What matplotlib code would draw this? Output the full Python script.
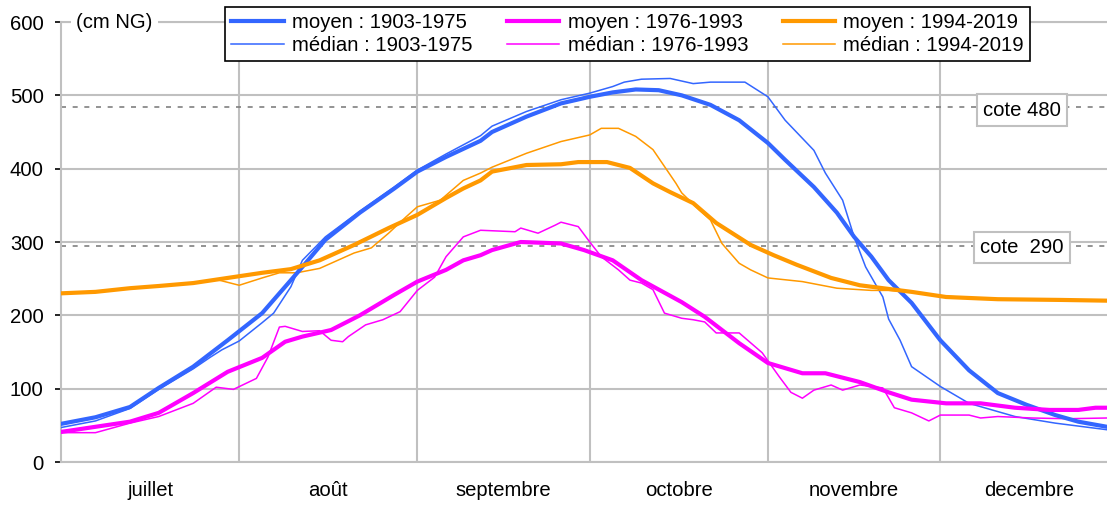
import matplotlib
matplotlib.use("Agg")
import matplotlib.pyplot as plt

plt.rcParams['font.family'] = ['Liberation Sans', 'DejaVu Sans']
plt.rcParams['font.size'] = 14.6

months = ["juillet", "août", "septembre", "octobre", "novembre", "decembre"]
month_starts = [0, 31, 62, 92, 123, 153, 184]

# jour 0 = 1er juillet, niveaux en cm NG
days_moy_1903 = [0, 6, 12, 17, 23, 29, 35, 42, 46, 52, 58, 62, 67, 73, 75, 81, 87, 92, 96, 100,
                 104, 108, 113, 118, 123, 126, 131, 135, 138, 141, 144, 148, 153, 158, 163, 168, 173, 177, 182]
moy_1903 = [52, 61, 75, 101, 130, 166, 203, 266, 303, 340, 373, 396, 416, 438, 450, 471, 489, 498, 504, 508,
            507, 500, 487, 466, 435, 412, 375, 340, 307, 280, 248, 217, 166, 125, 94, 78, 64, 55, 48]

days_med_1903 = [0, 6, 12, 17, 23, 26, 28, 31, 35, 37, 40, 42, 46, 52, 58, 62, 67, 73, 75, 81,
                 87, 92, 96, 98, 101, 106, 110, 113, 119, 121, 123, 126, 131, 133, 136, 138, 140, 143, 144, 146,
                 148, 153, 158, 166, 173, 182]
med_1903 = [47, 56, 73, 99, 127, 143, 153, 165, 190, 203, 239, 275, 307, 342, 375, 398, 420, 445, 458, 478,
            494, 503, 512, 518, 522, 523, 516, 518, 518, 508, 498, 466, 425, 394, 357, 307, 266, 225, 195, 166,
            130, 103, 80, 62, 53, 44]

days_moy_1976 = [0, 6, 12, 17, 23, 29, 35, 39, 42, 47, 52, 58, 62, 67, 70, 73, 75, 80, 87, 91,
                 96, 101, 108, 112, 118, 123, 129, 133, 139, 144, 148, 154, 160, 166, 172, 177, 180, 182]
moy_1976 = [41, 48, 55, 67, 94, 123, 142, 164, 171, 180, 200, 228, 246, 262, 275, 282, 289, 300, 298, 289,
            275, 248, 218, 198, 162, 135, 121, 121, 109, 95, 85, 80, 80, 74, 71, 71, 74, 74]

days_med_1976 = [0, 6, 12, 17, 23, 27, 30, 34, 36, 38, 39, 42, 45, 47, 49, 50, 53, 56, 59, 62,
                 65, 67, 70, 72, 73, 79, 80, 83, 86, 87, 90, 92, 94, 97, 99, 101, 103, 105, 108, 110,
                 112, 114, 118, 122, 125, 127, 129, 131, 134, 136, 139, 143, 145, 148, 151, 153, 158, 160, 163, 169,
                 175, 182]
med_1976 = [40, 40, 53, 62, 80, 102, 99, 114, 143, 184, 185, 178, 179, 166, 164, 171, 187, 194, 205, 234,
            252, 280, 307, 313, 316, 314, 319, 312, 323, 327, 321, 300, 280, 262, 248, 244, 235, 203, 196, 194,
            191, 176, 176, 149, 116, 95, 87, 98, 105, 98, 105, 101, 74, 67, 56, 64, 64, 60, 62, 60,
            59, 60]

days_moy_1994 = [0, 6, 12, 17, 23, 29, 35, 40, 45, 51, 57, 62, 67, 70, 73, 75, 81, 87, 90, 95,
                 99, 103, 106, 110, 114, 120, 124, 128, 134, 139, 144, 148, 154, 163, 174, 182]
moy_1994 = [230, 232, 237, 240, 244, 251, 258, 263, 275, 296, 319, 337, 360, 373, 384, 396, 405, 406, 409, 409,
            401, 380, 368, 353, 326, 296, 282, 269, 251, 241, 236, 232, 225, 222, 221, 220]

days_med_1994 = [0, 6, 12, 17, 23, 27, 31, 35, 38, 41, 45, 51, 54, 57, 60, 62, 66, 70, 73, 75,
                 81, 87, 92, 94, 97, 100, 103, 105, 107, 108, 111, 113, 115, 118, 120, 123, 129, 135, 141, 144,
                 148, 154, 163, 174, 182]
med_1994 = [230, 233, 236, 240, 244, 249, 241, 251, 258, 258, 264, 285, 292, 312, 334, 348, 357, 384, 394, 402,
            421, 437, 446, 455, 455, 444, 426, 403, 380, 367, 344, 330, 298, 271, 262, 251, 246, 237, 234, 234,
            232, 226, 222, 221, 220]

cotes = [484, 295]
cote_labels = ["cote 480", "cote  290"]
cote_label_y = [480, 292]

blue = '#3366FF'
magenta = '#FF00FF'
orange = '#FF9900'
grid_col = '#C0C0C0'

fig = plt.figure(figsize=(11.07, 5.08), dpi=100)
ax = fig.add_axes([61 / 1107, 1 - 462 / 508, 1 - 61 / 1107, (462 - 22) / 508])

for c in cotes:
    ax.axhline(c, color='#808080', linestyle=(0, (3, 4)), linewidth=1.2, zorder=1)
for lab, yy in zip(cote_labels, cote_label_y):
    ax.text(167.2, yy, lab, ha='center', va='center', zorder=5,
            bbox=dict(boxstyle='square,pad=0.3', facecolor='white', edgecolor=grid_col, linewidth=1.5))

l1, = ax.plot(days_moy_1903, moy_1903, color=blue, linewidth=3, label="moyen : 1903-1975", zorder=4)
l2, = ax.plot(days_med_1903, med_1903, color=blue, linewidth=1.1, label="médian : 1903-1975", zorder=3)
l3, = ax.plot(days_moy_1976, moy_1976, color=magenta, linewidth=3, label="moyen : 1976-1993", zorder=4)
l4, = ax.plot(days_med_1976, med_1976, color=magenta, linewidth=1.1, label="médian : 1976-1993", zorder=3)
l5, = ax.plot(days_moy_1994, moy_1994, color=orange, linewidth=3, label="moyen : 1994-2019", zorder=4)
l6, = ax.plot(days_med_1994, med_1994, color=orange, linewidth=1.1, label="médian : 1994-2019", zorder=3)

ax.set_xlim(0, 182)
ax.set_ylim(0, 600)
ax.set_yticks(range(0, 601, 100))
ax.set_xticks(month_starts[1:-1])
ax.set_xticklabels([])
centers = [(month_starts[i] + month_starts[i + 1]) / 2 for i in range(len(months))]
ax.set_xticks(centers, minor=True)
ax.set_xticklabels(months, minor=True)
ax.tick_params(axis='x', which='both', length=0, pad=14)
ax.tick_params(axis='y', length=4.5, width=1.2, color='black', pad=8)

ax.grid(True, which='major', color=grid_col, linewidth=1.5, zorder=0)
ax.axhline(600, color=grid_col, linewidth=1.5, zorder=0, clip_on=False)
for side in ['top', 'right']:
    ax.spines[side].set_visible(False)
for side in ['left', 'bottom']:
    ax.spines[side].set_color(grid_col)
    ax.spines[side].set_linewidth(1.5)
ax.set_axisbelow(True)

ax.text(9.3, 600, "(cm NG)", ha='center', va='center', zorder=5, clip_on=False,
        bbox=dict(boxstyle='square,pad=0.25', facecolor='white', edgecolor='none'))

leg = fig.legend(handles=[l1, l2, l3, l4, l5, l6], ncol=3, loc='center',
                 bbox_to_anchor=(627.5 / 1107, 1 - 34 / 508), frameon=True, fancybox=False,
                 handlelength=2.6, handletextpad=0.4, columnspacing=1.7, labelspacing=0.2,
                 borderpad=0.3, borderaxespad=0)
leg.get_frame().set_edgecolor('black')
leg.get_frame().set_linewidth(1.2)
leg.get_frame().set_alpha(1)

fig.savefig("out.png", dpi=100)
